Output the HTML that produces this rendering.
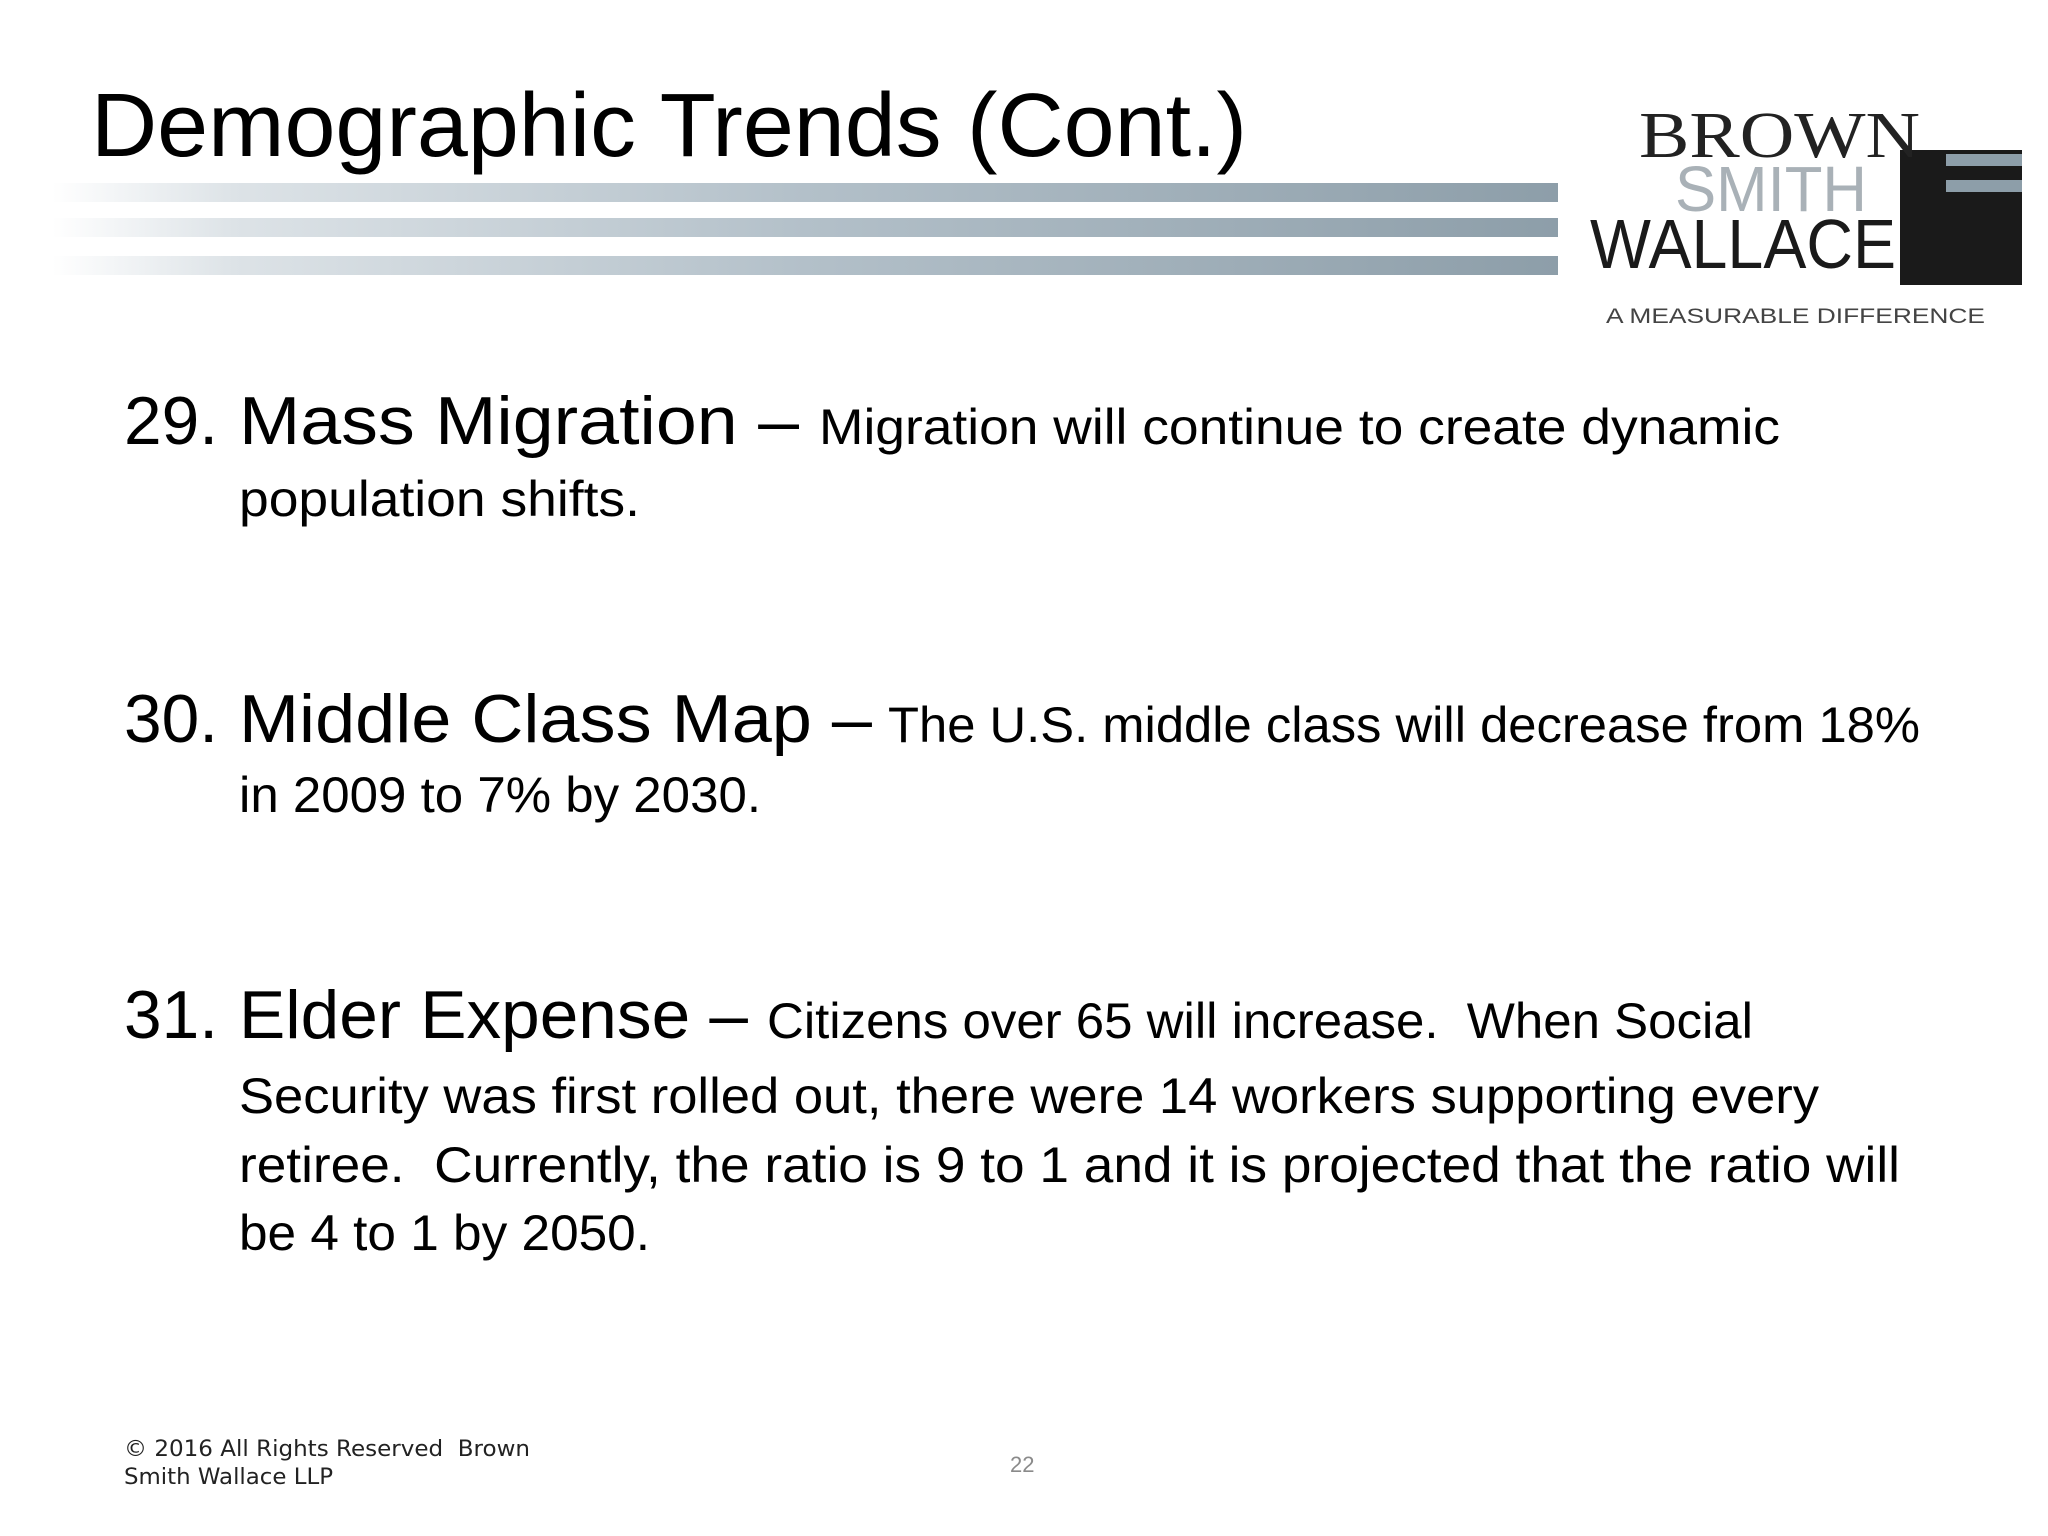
<!DOCTYPE html>
<html><head><meta charset="utf-8"><style>
html,body{margin:0;padding:0;background:#fff;}
svg{display:block;}
text{font-family:"Liberation Sans",sans-serif;white-space:pre;}
</style></head><body>
<svg width="2048" height="1536" viewBox="0 0 2048 1536" xmlns="http://www.w3.org/2000/svg">
<defs>
<linearGradient id="bar" x1="0" x2="1" y1="0" y2="0">
<stop offset="0" stop-color="#ffffff"/>
<stop offset="0.12" stop-color="#dde3e7"/>
<stop offset="0.5" stop-color="#b3c0c9"/>
<stop offset="1" stop-color="#8d9ea9"/>
</linearGradient>
</defs>
<rect width="2048" height="1536" fill="#fff"/>
<text x="91" y="156" font-size="90" textLength="1156" lengthAdjust="spacingAndGlyphs" fill="#000">Demographic Trends (Cont.)</text>
<g>
<rect x="52" y="183" width="1506" height="19" fill="url(#bar)"/>
<rect x="52" y="218" width="1506" height="19" fill="url(#bar)"/>
<rect x="52" y="256" width="1506" height="19" fill="url(#bar)"/>
</g>
<g>
<rect x="1900" y="150" width="122" height="135" fill="#1a1a1a"/>
<rect x="1946" y="154" width="76" height="12" fill="#8d9ea9"/>
<rect x="1946" y="180" width="76" height="12" fill="#8d9ea9"/>
<text x="1639" y="157" style="font-family:'Liberation Serif',serif" font-size="66" textLength="281" lengthAdjust="spacingAndGlyphs" fill="#222">BROWN</text>
<text x="1675" y="211" font-size="64" textLength="192" lengthAdjust="spacingAndGlyphs" fill="#a9b1b7">SMITH</text>
<text x="1590" y="268" font-size="70" textLength="306" lengthAdjust="spacingAndGlyphs" fill="#1a1a1a">WALLACE</text>
<text x="1606" y="323" font-size="21" textLength="379" lengthAdjust="spacingAndGlyphs" fill="#444">A MEASURABLE DIFFERENCE</text>
</g>
<g fill="#000">
<text x="124" y="444" font-size="68" textLength="94" lengthAdjust="spacingAndGlyphs">29.</text>
<text x="239" y="444" font-size="68" textLength="560" lengthAdjust="spacingAndGlyphs">Mass Migration –</text>
<text x="819" y="444" font-size="50" textLength="961" lengthAdjust="spacingAndGlyphs">Migration will continue to create dynamic</text>
<text x="239" y="516" font-size="50" textLength="401" lengthAdjust="spacingAndGlyphs">population shifts.</text>
</g>
<g fill="#000">
<text x="124" y="742" font-size="68" textLength="94" lengthAdjust="spacingAndGlyphs">30.</text>
<text x="239" y="742" font-size="68" textLength="633" lengthAdjust="spacingAndGlyphs">Middle Class Map –</text>
<text x="888" y="742" font-size="50" textLength="1032" lengthAdjust="spacingAndGlyphs">The U.S. middle class will decrease from 18%</text>
<text x="239" y="812" font-size="50" textLength="522" lengthAdjust="spacingAndGlyphs">in 2009 to 7% by 2030.</text>
</g>
<g fill="#000">
<text x="124" y="1038" font-size="68" textLength="94" lengthAdjust="spacingAndGlyphs">31.</text>
<text x="239" y="1038" font-size="68" textLength="509" lengthAdjust="spacingAndGlyphs">Elder Expense –</text>
<text x="767" y="1038" font-size="50" textLength="986" lengthAdjust="spacingAndGlyphs">Citizens over 65 will increase.  When Social</text>
<text x="239" y="1113" font-size="50" textLength="1580" lengthAdjust="spacingAndGlyphs">Security was first rolled out, there were 14 workers supporting every</text>
<text x="239" y="1182" font-size="50" textLength="1661" lengthAdjust="spacingAndGlyphs">retiree.  Currently, the ratio is 9 to 1 and it is projected that the ratio will</text>
<text x="239" y="1250" font-size="50" textLength="411" lengthAdjust="spacingAndGlyphs">be 4 to 1 by 2050.</text>
</g>
<g fill="#222">
<text x="124" y="1456" font-size="22" style="font-family:'DejaVu Sans',sans-serif" textLength="406" lengthAdjust="spacingAndGlyphs">© 2016 All Rights Reserved  Brown</text>
<text x="124" y="1484" font-size="22" style="font-family:'DejaVu Sans',sans-serif" textLength="209" lengthAdjust="spacingAndGlyphs">Smith Wallace LLP</text>
</g>
<text x="1010" y="1472" font-size="22" fill="#8a8a8a">22</text>
</svg>
</body></html>
